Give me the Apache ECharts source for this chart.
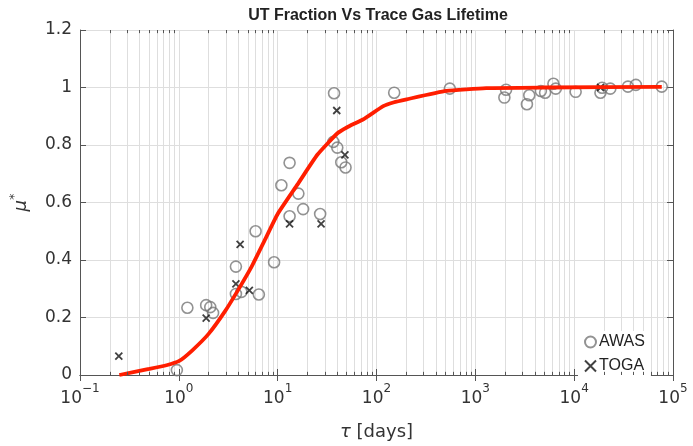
<!DOCTYPE html>
<html>
<head>
<meta charset="utf-8">
<script src="https://cdn.jsdelivr.net/npm/echarts@6/dist/echarts.min.js"></script>
<style>
  html, body { margin: 0; padding: 0; background: #fff; }
  #chart { width: 693px; height: 446px; }
</style>
</head>
<body>
<div id="chart"></div>
<script>
  // AWAS samples: [lifetime (days), mu*]
  const awas = [
    [0.955, 0.017], [1.22, 0.234], [1.89, 0.243], [2.08, 0.236], [2.22, 0.216],
    [3.78, 0.377], [3.78, 0.282], [4.3, 0.289], [5.98, 0.5], [6.45, 0.28],
    [9.2, 0.392], [10.9, 0.66], [13.2, 0.552], [13.2, 0.738], [16.2, 0.631],
    [18.1, 0.577], [26.9, 0.56], [37.2, 0.98], [36.6, 0.811], [40.1, 0.791],
    [44, 0.74], [48.6, 0.722],
    [151, 0.982], [552, 0.996], [2046, 0.992], [1967, 0.965], [3326, 0.942],
    [3513, 0.973], [4603, 0.988], [5082, 0.982], [6166, 1.013], [6515, 0.996],
    [10350, 0.985], [18450, 0.982], [19170, 0.999], [23200, 0.996],
    [35000, 1.003], [42100, 1.009], [76900, 1.003]
  ];
  // TOGA samples
  const toga = [
    [0.247, 0.066], [1.89, 0.198], [3.78, 0.317], [4.17, 0.454], [5.17, 0.294],
    [13.2, 0.526], [27.5, 0.526], [39.6, 0.92], [47.9, 0.766], [18500, 1.0]
  ];
  // fitted curve
  const fit = [
    [0.25, 0.0], [0.5, 0.021], [0.75, 0.034], [1.0, 0.048], [1.37, 0.086],
    [2.0, 0.143], [2.95, 0.223], [4.0, 0.297], [5.45, 0.377], [7.4, 0.469],
    [10, 0.56], [15.9, 0.663], [25.2, 0.766], [40, 0.84], [50, 0.861],
    [75, 0.891], [117, 0.935], [148, 0.948], [202, 0.959], [508, 0.988],
    [1288, 0.998], [5000, 1.0], [77000, 1.002]
  ];
  const decades = [-1, 0, 1, 2, 3, 4];
  const minorSteps = [2, 3, 4, 5, 6, 7, 8, 9];

  let minor = [];
  decades.forEach(d => minorSteps.forEach(m => minor.push(+(m * Math.pow(10, d)).toPrecision(3))));

  const gridColor = '#dedede';
  const axisColor = '#555';
  const yMax = 1.2;

  let minorGrid = minor.map(v => ({xAxis: v}));
  let minorTicks = [];
  minor.forEach(v => {
    minorTicks.push([{coord: [v, 0]}, {coord: [v, 0.011]}]);
    minorTicks.push([{coord: [v, yMax]}, {coord: [v, yMax - 0.011]}]);
  });

  const font = 'DejaVu Sans';
  const supMinus = s => String(s).replace('-', '\u2212');

  const chart = echarts.init(document.getElementById('chart'));
  chart.setOption({
    animation: false,
    title: {
      text: 'UT Fraction Vs Trace Gas Lifetime',
      left: 373, top: 3, textAlign: 'center',
      textStyle: {fontFamily: 'Liberation Sans', fontWeight: 'bold', fontSize: 16, color: '#222'}
    },
    grid: {left: 73, right: 20, top: 30, bottom: 66},
    legend: {
      data: ['AWAS', 'TOGA'],
      orient: 'vertical',
      left: 578, top: 331,
      backgroundColor: '#fff',
      padding: [3, 6],
      itemWidth: 11, itemHeight: 11, itemGap: 8,
      textStyle: {fontFamily: 'Liberation Sans', fontSize: 16, color: '#222', padding: [0, 0, 0, -2]}
    },
    xAxis: [{
      type: 'log', logBase: 10, min: 0.1, max: 100000, splitNumber: 6,
      name: '{t|τ} [days]', nameLocation: 'middle', nameGap: 48,
      nameTextStyle: {fontFamily: font, fontSize: 18, color: '#333',
        rich: {t: {fontFamily: font, fontStyle: 'italic', fontSize: 18, color: '#333'}}},
      axisLine: {lineStyle: {color: axisColor, width: 1}},
      axisTick: {inside: true, length: 6, lineStyle: {color: axisColor}},
      splitLine: {show: true, lineStyle: {color: gridColor, width: 1}},
      axisLabel: {
        margin: 8,
        formatter: v => '{b|10}{s|' + supMinus(Math.round(Math.log10(v))) + '}',
        rich: {
          b: {fontFamily: font, fontSize: 17, color: '#333', lineHeight: 24, verticalAlign: 'bottom'},
          s: {fontFamily: font, fontSize: 12, color: '#333', lineHeight: 12, verticalAlign: 'top'}
        }
      }
    }, {
      type: 'log', logBase: 10, min: 0.1, max: 100000, splitNumber: 6, position: 'top',
      axisLine: {lineStyle: {color: axisColor, width: 1}},
      axisTick: {inside: true, length: 6, lineStyle: {color: axisColor}},
      axisLabel: {show: false}, splitLine: {show: false}
    }],
    yAxis: [{
      type: 'value', min: 0, max: yMax, interval: 0.2,
      name: '{m|μ}{s|*}', nameLocation: 'middle', nameGap: 50, nameRotate: 90,
      nameTextStyle: {
        rich: {
          m: {fontFamily: font, fontStyle: 'italic', fontSize: 18, color: '#333', lineHeight: 22, verticalAlign: 'bottom'},
          s: {fontFamily: font, fontSize: 13, color: '#333', lineHeight: 12, verticalAlign: 'top'}
        }
      },
      axisLine: {show: true, lineStyle: {color: axisColor, width: 1}},
      axisTick: {show: true, inside: true, length: 6, lineStyle: {color: axisColor}},
      splitLine: {show: true, lineStyle: {color: gridColor, width: 1}},
      axisLabel: {fontFamily: font, fontSize: 17, color: '#333', margin: 8}
    }, {
      type: 'value', min: 0, max: yMax, interval: 0.2, position: 'right',
      axisLine: {show: true, lineStyle: {color: axisColor, width: 1}},
      axisTick: {show: true, inside: true, length: 6, lineStyle: {color: axisColor}},
      axisLabel: {show: false}, splitLine: {show: false}
    }],
    series: [{
      type: 'line', name: 'grid', data: [], silent: true,
      markLine: {
        silent: true, symbol: 'none', z: 0,
        label: {show: false},
        lineStyle: {color: gridColor, type: 'solid', width: 1},
        data: minorGrid
      }
    }, {
      type: 'line', name: 'ticks', data: [], silent: true,
      markLine: {
        silent: true, symbol: 'none',
        label: {show: false},
        lineStyle: {color: axisColor, type: 'solid', width: 1},
        data: minorTicks
      }
    }, {
      type: 'scatter', name: 'AWAS', data: awas, z: 3,
      symbol: 'circle', symbolSize: 11,
      itemStyle: {color: 'rgba(0,0,0,0)', borderColor: '#777', borderWidth: 1.6}
    }, {
      type: 'scatter', name: 'TOGA', data: toga, z: 3,
      symbol: 'path://M0,0L10,10M10,0L0,10', symbolSize: 7,
      itemStyle: {color: 'rgba(0,0,0,0)', borderColor: '#111', borderWidth: 1.8}
    }, {
      type: 'line', name: 'fit', data: fit, z: 4,
      symbol: 'none', smooth: 0.15,
      lineStyle: {color: '#ff1e00', width: 3.8}
    }]
  });
</script>
</body>
</html>
